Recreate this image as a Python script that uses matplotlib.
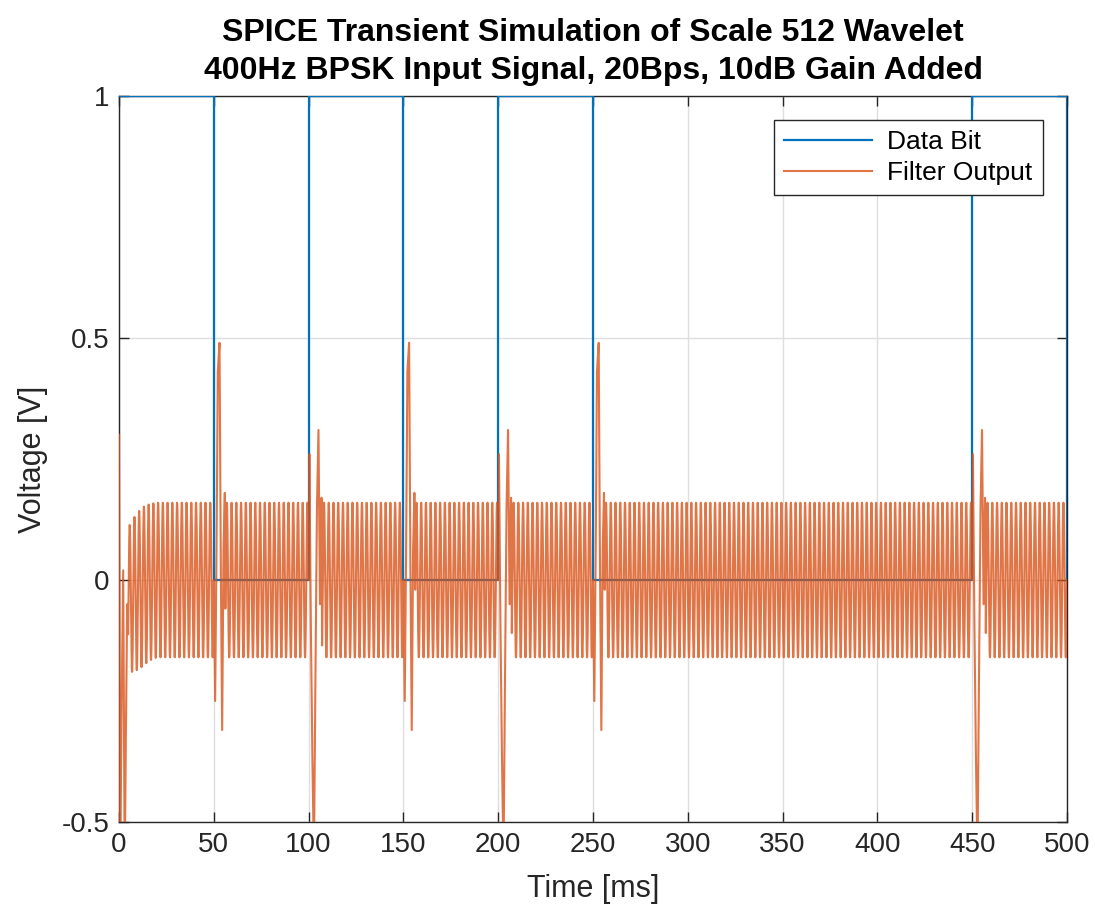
import numpy as np
import matplotlib
matplotlib.use('Agg')
import matplotlib.pyplot as plt

plt.rcParams['font.family'] = ['Liberation Sans', 'DejaVu Sans']

''' Data read from the reference '''
# data bit (square wave), times in ms
bit_t = [0, 50, 50, 100, 100, 150, 150, 200, 200, 250, 250, 450, 450, 500, 500]
bit_v = [1, 1, 0, 0, 1, 1, 0, 0, 1, 1, 0, 0, 1, 1, 0]
bit_edges = [50, 100, 150, 200, 250, 450]
bit_levels = [1, 0, 1, 0, 1, 0, 1]

# filter output: 400 Hz carrier, steady amplitude, SPICE print step
carrier_khz = 0.4
carrier_amp = 0.16
spice_step = 0.1
# start-up ramp of the carrier (time, amplitude, offset)
ramp_t = [5, 8, 12, 16, 20]
ramp_amp = [0.15, 0.16, 0.165, 0.162, 0.16]
ramp_off = [-0.04, -0.03, -0.015, -0.005, 0.0]

# start-up transient points
start_t = [0.0, 0.6, 1.4, 2.2, 3.0, 3.6, 4.3]
start_v = [0.30, -0.60, -0.25, 0.02, -0.60, -0.33, -0.05]

# bit transitions and their transients (dt from transition, value)
fall_times = [50, 150, 250]
fall_dt = [0.0, 0.7, 1.4, 2.1, 3.0, 3.7, 4.4, 5.1, 5.8]
fall_v = [0.0, -0.25, 0.05, 0.43, 0.49, 0.02, -0.31, 0.06, 0.18]
rise_times = [100, 200, 450]
rise_dt = [0.0, 0.4, 1.2, 2.0, 2.8, 3.6, 4.4, 5.2, 6.0, 6.8]
rise_v = [0.0, 0.26, -0.10, -0.37, -0.58, -0.20, 0.15, 0.31, -0.05, 0.17]


def filter_output():
    grid = np.arange(0, 500.0001, spice_step)
    keep = grid >= start_t[-1] + 0.5
    for t0 in fall_times:
        keep &= ~((grid >= t0) & (grid <= t0 + fall_dt[-1] + 0.3))
    for t0 in rise_times:
        keep &= ~((grid >= t0) & (grid <= t0 + rise_dt[-1] + 0.3))
    tc = grid[keep]
    bit = np.array(bit_levels)[np.searchsorted(bit_edges, tc, side='right')]
    amp = np.interp(tc, ramp_t, ramp_amp, right=carrier_amp)
    off = np.interp(tc, ramp_t, ramp_off, right=0.0)
    vc = amp * (2 * bit - 1) * np.sin(2 * np.pi * carrier_khz * tc) + off

    ts = [tc, np.array(start_t)]
    vs = [vc, np.array(start_v)]
    for t0 in fall_times:
        ts.append(t0 + np.array(fall_dt))
        vs.append(np.array(fall_v))
    for t0 in rise_times:
        ts.append(t0 + np.array(rise_dt))
        vs.append(np.array(rise_v))
    t_all = np.concatenate(ts)
    v_all = np.concatenate(vs)
    order = np.argsort(t_all, kind='stable')
    return t_all[order], v_all[order]


out_t, out_v = filter_output()

''' Plot '''
fig = plt.figure(figsize=(10.95, 9.15), dpi=100)
ax = fig.add_axes([0.1087, 0.1016, 0.9744 - 0.1087, 0.8951 - 0.1016])

ax.plot(bit_t, bit_v, color='#0072BD', lw=1.6, label='Data Bit', zorder=2.6)
ax.plot(out_t, out_v, color='#D95319', lw=1.5, alpha=0.8,
        label='Filter Output', zorder=2.7)

ax.set_xlim(0, 500)
ax.set_ylim(-0.5, 1)
ax.set_xticks(np.arange(0, 501, 50))
ax.set_yticks([-0.5, 0, 0.5, 1])
ax.set_yticklabels(['-0.5', '0', '0.5', '1'])
ax.grid(True, color='#dedede', lw=1.0)
ax.set_axisbelow(True)
ax.tick_params(direction='in', top=True, right=True, length=7, width=1,
               labelsize=20, colors='#262626', pad=7)
for s in ax.spines.values():
    s.set_color('#262626')
    s.set_linewidth(1.0)

ax.set_xlabel('Time [ms]', fontsize=22, color='#262626', labelpad=12)
ax.set_ylabel('Voltage [V]', fontsize=22, color='#262626', labelpad=10)
ax.set_title('SPICE Transient Simulation of Scale 512 Wavelet\n'
             '400Hz BPSK Input Signal, 20Bps, 10dB Gain Added',
             fontsize=23, fontweight='bold', pad=12, linespacing=1.35)

leg = ax.legend(loc='upper right', fontsize=19, fancybox=False,
                framealpha=1, edgecolor='#262626', borderaxespad=0.9,
                handlelength=3.3, handletextpad=0.6, borderpad=0.4,
                labelspacing=0.25)
leg.get_frame().set_linewidth(1.0)

fig.savefig('out.png', dpi=100)
